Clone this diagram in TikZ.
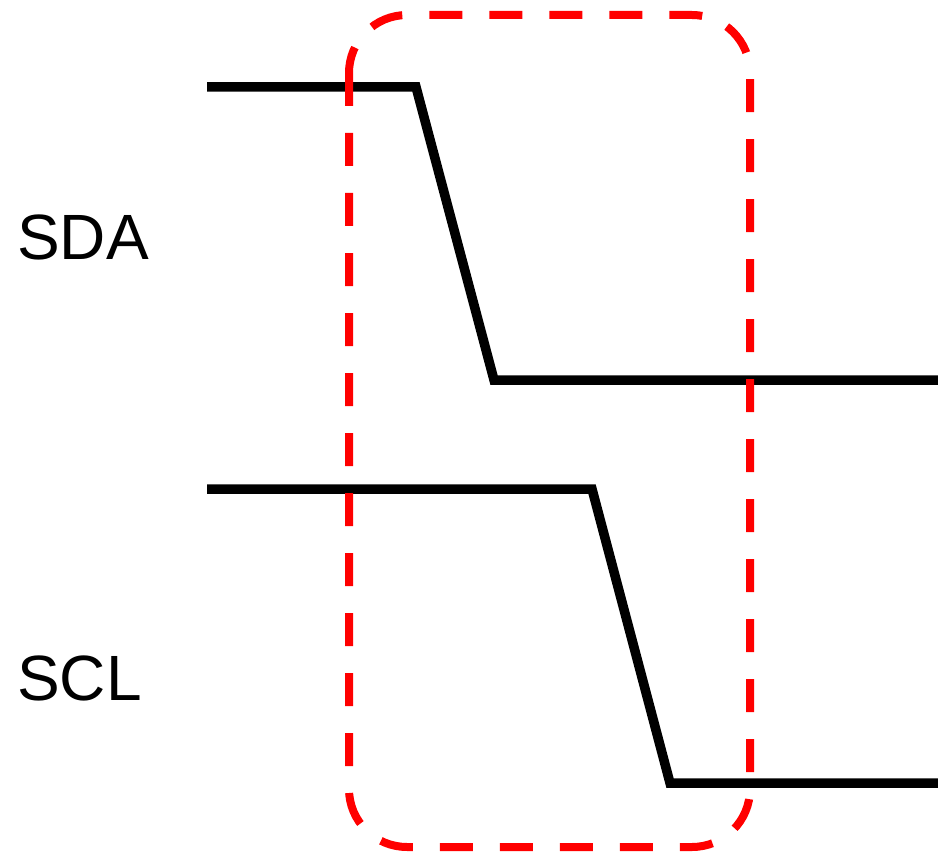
\documentclass[tikz,border=0pt]{standalone}
\usepackage{fontspec}
\setmainfont{Liberation Sans}
\begin{document}
\begin{tikzpicture}[x=1pt,y=-1pt,
  signal/.style={line width=9.5pt, line join=miter, black},
  window/.style={line width=8pt, red, dash pattern=on 33pt off 27pt, rounded corners=58pt},
  siglabel/.style={anchor=base west, inner sep=0pt, font=\fontsize{64}{64}\selectfont}]
  \useasboundingbox (0,0) rectangle (938,856);
  % signal names
  \node[siglabel] (sda) at (17,259) {SDA};
  \node[siglabel] (scl) at (17,700) {SCL};
  % SDA waveform
  \coordinate (sdaA) at (207,87);
  \coordinate (sdaB) at (416,87);
  \coordinate (sdaC) at (494,380);
  \coordinate (sdaD) at (938,380);
  \draw[signal] (sdaA) -- (sdaB) -- (sdaC) -- (sdaD);
  % SCL waveform
  \coordinate (sclA) at (207,489);
  \coordinate (sclB) at (592,489);
  \coordinate (sclC) at (670,783);
  \coordinate (sclD) at (938,783);
  \draw[signal] (sclA) -- (sclB) -- (sclC) -- (sclD);
  % highlighted start-condition window
  \coordinate (winA) at (349,15);
  \coordinate (winB) at (750,847);
  \draw[window] (winA) rectangle (winB);
\end{tikzpicture}
\end{document}
